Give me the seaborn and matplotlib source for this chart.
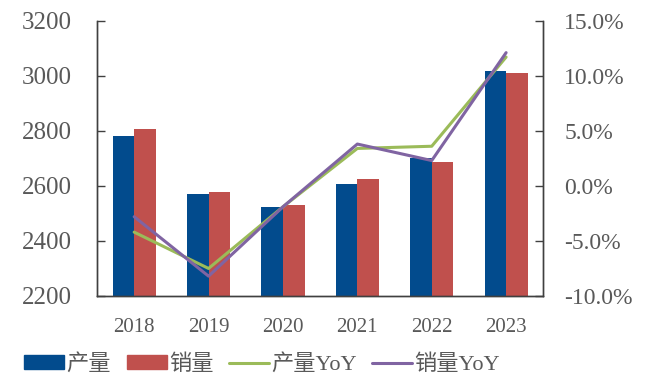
import numpy as np
import pandas as pd
import matplotlib
matplotlib.use("Agg")
import matplotlib.pyplot as plt
import seaborn as sns
from matplotlib.ticker import FuncFormatter

# data
years = ["2018", "2019", "2020", "2021", "2022", "2023"]
production = [2781, 2572, 2522, 2607, 2701, 3017]
sales = [2807, 2577, 2529, 2626, 2686, 3010]
production_yoy = [-4.2, -7.5, -1.9, 3.4, 3.6, 11.7]
sales_yoy = [-2.8, -8.2, -1.9, 3.8, 2.3, 12.1]

sns.set_style("white")
plt.rcParams['font.family'] = ['Liberation Serif', 'Noto Sans CJK SC']
plt.rcParams['axes.unicode_minus'] = False

c_blue = "#024B8D"
c_red = "#C0504D"
c_green = "#9BBB59"
c_purple = "#8064A2"
txt = "#595959"

df = pd.DataFrame({
    "year": years * 2,
    "value": production + sales,
    "kind": ["产量"] * len(years) + ["销量"] * len(years),
})

fig = plt.figure(figsize=(6.62, 3.91), dpi=100)
ax = fig.add_axes([0.1465, 0.243, 0.8207 - 0.1465, 0.947 - 0.243])

sns.barplot(data=df, x="year", y="value", hue="kind", palette=[c_blue, c_red],
            width=0.58, gap=0, saturation=1, linewidth=0, edgecolor="none",
            ax=ax, legend=False)
ax.set_ylim(2200, 3200)
ax.set_yticks(np.arange(2200, 3201, 200))
ax.set_xlim(-0.5, len(years) - 0.5)
ax.set_xlabel("")
ax.set_ylabel("")

ax2 = ax.twinx()
pos = np.arange(len(years))
sns.lineplot(x=pos, y=production_yoy, color=c_green, lw=2.2, ax=ax2, label="产量YoY")
sns.lineplot(x=pos, y=sales_yoy, color=c_purple, lw=2.2, ax=ax2, label="销量YoY")
ax2.set_ylim(-10, 15)
ax2.set_yticks(np.arange(-10, 15.1, 5))
ax2.yaxis.set_major_formatter(FuncFormatter(lambda v, p: f"{v:.1f}%"))
ax2.get_legend().remove()

for a in (ax, ax2):
    a.spines['top'].set_visible(False)
    for s in ('left', 'right', 'bottom'):
        a.spines[s].set_color("#404040")
        a.spines[s].set_linewidth(1.0)
    a.tick_params(axis='x', length=0, labelsize=15, labelcolor=txt, pad=16)
ax.tick_params(axis='y', direction='in', length=6, width=1, color="#404040",
               labelsize=18, labelcolor=txt, pad=18)
ax2.tick_params(axis='y', direction='in', length=6, width=1, color="#404040",
                labelsize=17, labelcolor=txt, pad=15)

handles = [
    plt.Rectangle((0, 0), 1, 1, color=c_blue),
    plt.Rectangle((0, 0), 1, 1, color=c_red),
    plt.Line2D([], [], color=c_green, lw=2.2),
    plt.Line2D([], [], color=c_purple, lw=2.2),
]
labels = ["产量", "销量", "产量YoY", "销量YoY"]
leg = fig.legend(handles, labels, loc="center", bbox_to_anchor=(0.396, 0.068), ncol=4,
                 frameon=False, fontsize=16, handlelength=1.8, handleheight=0.55,
                 handletextpad=0.1, columnspacing=0.7)
for t in leg.get_texts():
    t.set_color(txt)

fig.savefig("out.png", dpi=100)
